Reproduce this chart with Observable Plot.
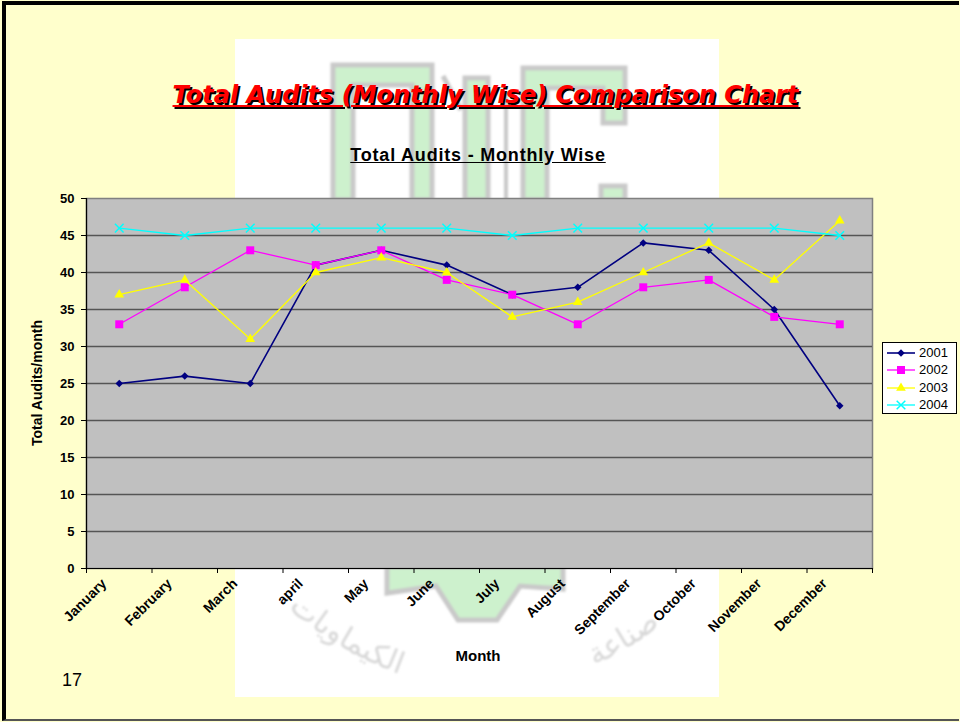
<!DOCTYPE html>
<html><head><meta charset="utf-8">
<script src="https://cdn.jsdelivr.net/npm/d3@7"></script>
<script src="https://cdn.jsdelivr.net/npm/@observablehq/plot@0.6"></script>
<style>
html,body{margin:0;padding:0;background:#FFFFCC;}
#page{position:relative;width:960px;height:722px;overflow:hidden;background:#FFFFCC;font-family:"Liberation Sans",Arial,sans-serif;color:#000;}
.abs{position:absolute;}
#title{left:0;width:971px;top:83px;text-align:center;font-family:"DejaVu Sans",Verdana,sans-serif;font-weight:bold;font-style:italic;font-size:24px;line-height:24px;color:#FF0000;text-decoration:underline;text-shadow:2px 2px 0 #000;white-space:nowrap;}
#subtitle{left:0;width:956px;top:146px;text-align:center;font-weight:bold;font-size:18px;line-height:18px;letter-spacing:0.8px;text-decoration:underline;white-space:nowrap;}
#xtitle{left:0;width:956px;top:648px;text-align:center;font-weight:bold;font-size:15px;line-height:15px;}
#ytitle{left:-63px;width:200px;top:375px;height:16px;line-height:16px;text-align:center;font-weight:bold;font-size:14px;transform:rotate(-90deg);white-space:nowrap;}
#pagenum{left:62px;top:671px;font-size:18px;line-height:18px;}
#legend{left:882px;top:342px;width:73px;height:70px;border:1px solid #000;background:#fff;}
.lrow{position:absolute;left:3px;height:16px;font-size:13px;line-height:16px;display:flex;align-items:center;}
.lrow svg{display:block;margin-right:3px;}
</style></head><body>
<div id="page">
  <div class="abs" style="left:2px;top:1px;width:953px;height:714px;border-top:4px solid #000;border-left:4px solid #000;border-bottom:2px solid #555;"></div>
  <div class="abs" style="left:235px;top:39px;width:484px;height:658px;background:#fff;"></div>
  <svg class="abs" style="left:0;top:0" width="960" height="722" viewBox="0 0 960 722">
    <defs><filter id="blur"><feGaussianBlur stdDeviation="1"/></filter>
      <path id="arcL" d="M 255 575 Q 330 660 445 688"/>
      <path id="arcR" d="M 520 688 Q 640 665 715 570"/></defs>
    <g filter="url(#blur)" fill="#CDF1CD" stroke="#C9C9C9" stroke-width="5" stroke-linejoin="miter">
      <polygon points="333,200 333,65 432,65 432,200 412,200 412,85 353,85 353,200"/>
      <polygon points="465,200 465,78 488,78 488,200"/>
      <polygon points="523,200 523,68 625,68 625,123 603,123 603,88 547,88 547,200"/>
      <polygon points="601,200 601,186 625,186 625,200"/>
      <polygon points="387,566 387,593 436,586 458,620 497,620 520,586 563,589 563,566"/>
      <line x1="443" y1="76" x2="461" y2="110" fill="none"/>
      <line x1="506" y1="92" x2="506" y2="200" fill="none" stroke-width="4"/>
    </g>
    <g font-family="DejaVu Sans" font-size="30" fill="#D8D8D8" filter="url(#blur)">
      <text><textPath href="#arcL" startOffset="50%" text-anchor="middle">الكيماويات</textPath></text>
      <text><textPath href="#arcR" startOffset="50%" text-anchor="middle">صناعة</textPath></text>
    </g>
  </svg>
  <div id="chart" class="abs" style="left:0;top:0"></div>
  <div id="title" class="abs">Total Audits (Monthly Wise) Comparison Chart</div>
  <div id="subtitle" class="abs">Total Audits - Monthly Wise</div>
  <div id="ytitle" class="abs">Total Audits/month</div>
  <div id="xtitle" class="abs">Month</div>
  <div id="pagenum" class="abs">17</div>
  <div id="legend" class="abs"></div>
</div>
<script>
// ---- data ----
const months = ["January","February","March","april","May","June","July","August","September","October","November","December"];
const yTicks = [0,5,10,15,20,25,30,35,40,45,50];
const seriesNames = ["2001","2002","2003","2004"];
const v2001 = [25,26,25,41,43,41,37,38,44,43,35,22];
const v2002 = [33,38,43,41,43,39,37,33,38,39,34,33];
const v2003 = [37,39,31,40,42,40,34,36,40,44,39,47];
const v2004 = [46,45,46,46,46,46,45,46,46,46,46,45];
const seriesValues = [v2001, v2002, v2003, v2004];
const seriesColors = ["#000080","#FF00FF","#FFFF00","#00FFFF"];
const seriesSymbols = ["diamond2","square","triangle","times"];
const symbolR = [3.4, 4.5, 3.6, 4];
const lineWidths = [1.6, 1.3, 1.3, 1.3];

const rows = [];
seriesNames.forEach((s,k)=>seriesValues[k].forEach((v,i)=>rows.push({series:s, month:months[i], xi:i+0.5, value:v})));

const W=960,H=722,mL=86,mR=88,mT=198,mB=154;
const plotW = W-mL-mR, plotH = H-mT-mB;
const boundaries = d3.range(months.length+1);

const marks = [
  Plot.frame({fill:"#C0C0C0", stroke:"#808080", strokeWidth:1.5}),
  Plot.ruleY(yTicks.filter(t=>t>0 && t<yTicks[yTicks.length-1]), {stroke:"#555", strokeWidth:1.5}),
  Plot.ruleY([0], {stroke:"#000", strokeWidth:1.2}),
  Plot.ruleX([0], {stroke:"#000", strokeWidth:1.2}),
  Plot.ruleX(boundaries, {insetTop:plotH, insetBottom:-5, stroke:"#000", strokeWidth:1}),
  Plot.ruleY(yTicks, {insetLeft:-5, insetRight:plotW, stroke:"#000", strokeWidth:1}),
  Plot.text(yTicks, {y:d=>d, frameAnchor:"left", dx:-12, textAnchor:"end", fontSize:13, fontWeight:"bold", fill:"#000"}),
  Plot.text(months, {x:(d,i)=>i+0.5, frameAnchor:"bottom", rotate:-45, textAnchor:"end", dx:-12, dy:16, fontSize:14, fontWeight:"bold", fill:"#000"})
];
seriesNames.forEach((s,k)=>{
  const d = rows.filter(r=>r.series===s);
  marks.push(Plot.line(d, {x:"xi", y:"value", stroke:seriesColors[k], strokeWidth:lineWidths[k]}));
  const isStroke = seriesSymbols[k]==="times";
  marks.push(Plot.dot(d, {x:"xi", y:"value", symbol:seriesSymbols[k], r:symbolR[k],
    fill: isStroke ? "none" : seriesColors[k], stroke: isStroke ? seriesColors[k] : "none", strokeWidth:1.5}));
});

const chart = Plot.plot({
  width:W, height:H, marginLeft:mL, marginRight:mR, marginTop:mT, marginBottom:mB,
  style:{background:"transparent", overflow:"visible", fontFamily:"Liberation Sans, Arial, sans-serif", color:"#000"},
  x:{domain:[0, months.length], axis:null},
  y:{domain:[yTicks[0], yTicks[yTicks.length-1]], axis:null},
  marks
});
document.getElementById("chart").appendChild(chart);

// legend
const symMap = {diamond2:d3.symbolDiamond2, square:d3.symbolSquare, triangle:d3.symbolTriangle, times:d3.symbolTimes};
const legend = document.getElementById("legend");
seriesNames.forEach((s,k)=>{
  const row = document.createElement("div");
  row.className = "lrow";
  row.style.top = (2 + k*17.3) + "px";
  const r = symbolR[k];
  const path = d3.symbol(symMap[seriesSymbols[k]], Math.PI*r*r)();
  const isStroke = seriesSymbols[k]==="times";
  row.innerHTML = `<svg width="30" height="16"><line x1="1" y1="8" x2="29" y2="8" stroke="${seriesColors[k]}" stroke-width="${lineWidths[k]}"/>`+
    `<path transform="translate(15,8)" d="${path}" fill="${isStroke?'none':seriesColors[k]}" stroke="${isStroke?seriesColors[k]:'none'}" stroke-width="1.5"/></svg><span>${s}</span>`;
  legend.appendChild(row);
});
</script>
</body></html>
